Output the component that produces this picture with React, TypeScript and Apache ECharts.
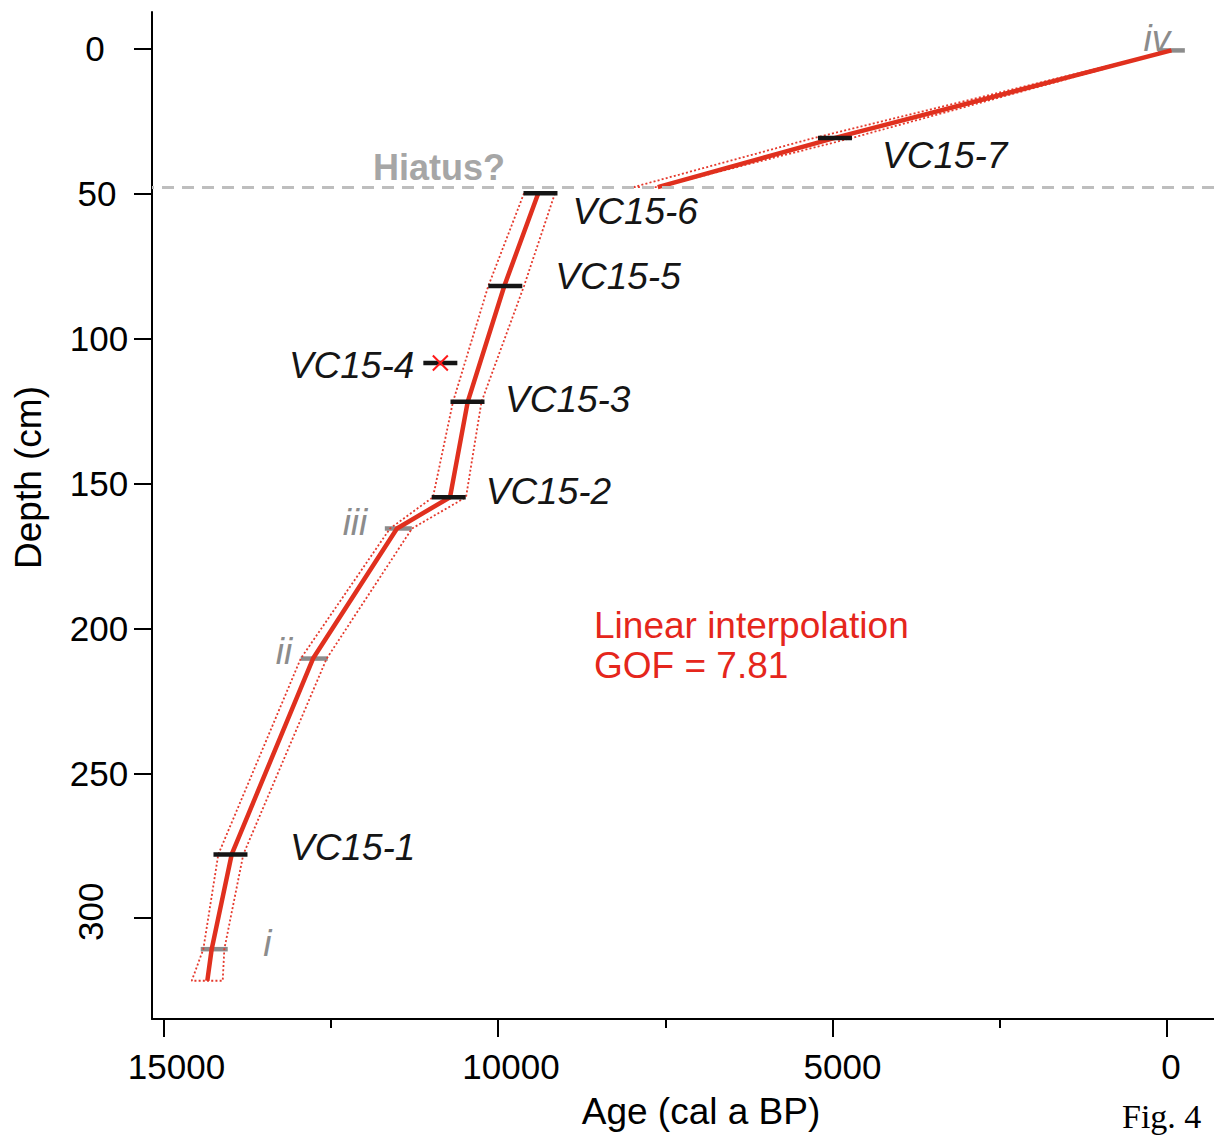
import React, { useEffect, useRef } from "react";
import * as echarts from "echarts";

// ---- data (ages in cal a BP, depths in cm) ----
const lowerLineAge = [9398, 9906, 10453, 10717, 11510, 12765, 13981, 14280, 14345];
const lowerLineDepth = [49.8, 81.8, 121.8, 154.7, 165.5, 210.4, 278.0, 310.7, 321.6];
const lowerOlderAge = [9611, 10145, 10673, 10972, 11614, 12949, 14181, 14405, 14578];
const lowerYoungerAge = [9148, 9611, 10247, 10478, 11285, 12561, 13807, 14091, 14115];
const lowerBoundDepth = [49.8, 81.8, 121.8, 154.7, 165.5, 210.4, 278.0, 310.7, 321.6];

const upperLineAge = [7612, 4963, -65];
const upperLineDepth = [47.7, 30.7, 0.5];
const upperOlderAge = [7978, 5277, -65];
const upperYoungerAge = [7612, 4709, -65];
const upperBoundDepth = [47.7, 30.7, 0.5];

const sampleNames = ["VC15-1", "VC15-2", "VC15-3", "VC15-4", "VC15-5", "VC15-6", "VC15-7"];
const sampleAges = [13999, 10737, 10456, 10862, 9891, 9365, 4963];
const sampleDepths = [278.0, 154.7, 121.8, 108.4, 81.8, 49.8, 30.7];
const rejectedSamples = ["VC15-4"];

const tieNames = ["i", "ii", "iii", "iv"];
const tieAges = [14242, 12747, 11490, -65];
const tieDepths = [310.7, 210.4, 165.5, 0.5];

const hiatusDepth = 47.7;
const depthTicks = [0, 50, 100, 150, 200, 250, 300];
const depthRotatedTicks = [300];
const ageTicks = [0, 5000, 10000, 15000];
const ageMinorTicks = [2500, 7500, 12500];

const modelText = ["Linear interpolation", "GOF = 7.81"];
const modelTextAt = [8565, 205.9];
const hiatusText = "Hiatus?";
const hiatusTextAt = [11868, 41.0];

// ---- layout / style ----
const AGE_MIN = -702.5;
const AGE_MAX = 15172;
const DEPTH_MIN = -12.76;
const DEPTH_MAX = 334.8;
const FONT = "'Liberation Sans', Arial, Helvetica, sans-serif";
const RED = "#e0301e";
const DOT_RED = "#e5392c";
const GRAY = "#8c8c8c";
const BLACK = "#151515";

const labelLayout: Record<string, { dx: number; dy: number; align: string }> = {
  "VC15-1": { dx: 59.5, dy: -7, align: "left" },
  "VC15-2": { dx: 37, dy: -6, align: "left" },
  "VC15-3": { dx: 37.5, dy: -2, align: "left" },
  "VC15-4": { dx: -26, dy: 2, align: "right" },
  "VC15-5": { dx: 50, dy: -9.5, align: "left" },
  "VC15-6": { dx: 32, dy: 18.5, align: "left" },
  "VC15-7": { dx: 47, dy: 18, align: "left" },
  i: { dx: 49, dy: -6, align: "left" },
  ii: { dx: -22, dy: -7, align: "right" },
  iii: { dx: -31, dy: -6, align: "right" },
  iv: { dx: -1, dy: -12, align: "right" },
};

function zip(a: number[], d: number[]) {
  return a.map((v, i) => [v, d[i]]);
}

function envelope(older: number[], younger: number[], depth: number[]) {
  const o = zip(older, depth);
  const y = zip(younger, depth).reverse();
  return [...o, ...y, o[0]];
}

export default function App() {
  const ref = useRef<HTMLDivElement>(null);

  useEffect(() => {
    if (!ref.current) return;
    const chart = echarts.init(ref.current, undefined, { renderer: "svg" });

    const sampleData = sampleNames.map((n, i) => {
      const l = labelLayout[n];
      return {
        name: n,
        value: [sampleAges[i], sampleDepths[i]],
        label: { offset: [l.dx, l.dy], align: l.align },
      };
    });
    const rejectedData = sampleNames
      .map((n, i) => ({ name: n, value: [sampleAges[i], sampleDepths[i]] }))
      .filter((d) => rejectedSamples.includes(d.name));
    const tieData = tieNames.map((n, i) => {
      const l = labelLayout[n];
      return {
        name: n,
        value: [tieAges[i], tieDepths[i]],
        label: { offset: [l.dx, l.dy], align: l.align },
      };
    });

    const xRich = {
      p1: { width: 8 },
      p4: { width: 20 },
      p5: { width: 26 },
      t: { fontSize: 35, fontFamily: FONT, color: "#000" },
    };
    const yRich = {
      p1: { width: 4 },
      p2: { width: 8 },
      p3: { width: 12 },
      t: { fontSize: 35, fontFamily: FONT, color: "#000" },
    };
    const spaced = (v: number) => {
      const s = String(v);
      return `{p${s.length}|\u00a0}{t|${s}}`;
    };

    const option: any = {
      animation: false,
      backgroundColor: "#ffffff",
      grid: { left: 152, right: 0, top: 12, bottom: 115, containLabel: false },
      xAxis: [
        {
          type: "value",
          inverse: true,
          min: AGE_MIN,
          max: AGE_MAX,
          position: "bottom",
          axisLine: { show: true, onZero: false, lineStyle: { color: "#000", width: 2 } },
          axisTick: {
            show: true,
            customValues: ageTicks,
            length: 18,
            lineStyle: { color: "#000", width: 2 },
          },
          axisLabel: {
            show: true,
            customValues: ageTicks,
            margin: 30,
            formatter: spaced,
            rich: xRich,
          },
          splitLine: { show: false },
          name: "Age (cal a BP)",
          nameLocation: "middle",
          nameGap: 74,
          nameTextStyle: {
            fontSize: 37,
            fontFamily: FONT,
            color: "#000",
            padding: [0, 0, 0, 36],
          },
        },
        {
          type: "value",
          inverse: true,
          min: AGE_MIN,
          max: AGE_MAX,
          position: "bottom",
          axisLine: { show: false, onZero: false },
          axisTick: {
            show: true,
            customValues: ageMinorTicks,
            length: 9,
            lineStyle: { color: "#000", width: 2 },
          },
          axisLabel: { show: false },
          splitLine: { show: false },
        },
      ],
      yAxis: [
        {
          type: "value",
          inverse: true,
          min: DEPTH_MIN,
          max: DEPTH_MAX,
          position: "left",
          axisLine: { show: true, onZero: false, lineStyle: { color: "#000", width: 2 } },
          axisTick: {
            show: true,
            customValues: depthTicks,
            length: 18,
            lineStyle: { color: "#000", width: 2 },
          },
          axisLabel: {
            show: true,
            customValues: depthTicks.filter((d) => !depthRotatedTicks.includes(d)),
            align: "center",
            margin: 59,
            formatter: spaced,
            rich: yRich,
          },
          splitLine: { show: false },
          name: "Depth (cm)",
          nameLocation: "middle",
          nameGap: 105,
          nameTextStyle: {
            fontSize: 37,
            fontFamily: FONT,
            color: "#000",
            padding: [0, 0, 0, 76],
          },
        },
        {
          type: "value",
          inverse: true,
          min: DEPTH_MIN,
          max: DEPTH_MAX,
          position: "left",
          axisLine: { show: false, onZero: false },
          axisTick: { show: false },
          axisLabel: {
            show: true,
            customValues: depthRotatedTicks,
            rotate: 90,
            margin: 44,
            fontSize: 35,
            fontFamily: FONT,
            color: "#000",
            padding: [0, 0, 0, 13],
          },
          splitLine: { show: false },
        },
      ],
      series: [
        {
          name: "tie points",
          type: "scatter",
          z: 1,
          symbol: "rect",
          symbolSize: [27, 4.5],
          itemStyle: { color: GRAY, opacity: 1 },
          emphasis: { disabled: true },
          data: tieData,
          label: {
            show: true,
            position: "inside",
            verticalAlign: "middle",
            formatter: "{b}",
            fontSize: 37,
            fontStyle: "italic",
            fontFamily: FONT,
            color: GRAY,
            opacity: 1,
          },
        },
        {
          name: "lower envelope",
          type: "line",
          z: 2,
          symbol: "none",
          data: envelope(lowerOlderAge, lowerYoungerAge, lowerBoundDepth),
          lineStyle: { color: DOT_RED, width: 1.8, type: [2, 2.2], opacity: 1 },
        },
        {
          name: "upper envelope",
          type: "line",
          z: 2,
          symbol: "none",
          data: envelope(upperOlderAge, upperYoungerAge, upperBoundDepth),
          lineStyle: { color: DOT_RED, width: 1.8, type: [2, 2.2], opacity: 1 },
        },
        {
          name: "hiatus",
          type: "line",
          z: 2,
          symbol: "none",
          data: [],
          markLine: {
            silent: true,
            symbol: ["none", "none"],
            label: { show: false },
            lineStyle: { color: "#bebebe", width: 3, type: [12, 8], opacity: 1 },
            data: [{ yAxis: hiatusDepth }],
          },
        },
        {
          name: "model lower",
          type: "line",
          z: 3,
          symbol: "none",
          data: zip(lowerLineAge, lowerLineDepth),
          lineStyle: { color: RED, width: 4.5, cap: "butt", opacity: 1 },
        },
        {
          name: "model upper",
          type: "line",
          z: 3,
          symbol: "none",
          data: zip(upperLineAge, upperLineDepth),
          lineStyle: { color: RED, width: 4.5, cap: "butt", opacity: 1 },
        },
        {
          name: "dated samples",
          type: "scatter",
          z: 4,
          symbol: "rect",
          symbolSize: [34, 4.5],
          itemStyle: { color: BLACK, opacity: 1 },
          emphasis: { disabled: true },
          data: sampleData,
          label: {
            show: true,
            position: "inside",
            verticalAlign: "middle",
            formatter: "{b}",
            fontSize: 37,
            fontStyle: "italic",
            fontFamily: FONT,
            color: BLACK,
            opacity: 1,
          },
        },
        {
          name: "rejected",
          type: "scatter",
          z: 5,
          symbol: "path://M0,0L10,10M10,0L0,10",
          symbolSize: 15,
          itemStyle: { color: "transparent", borderColor: "#ff1a1a", borderWidth: 2, opacity: 1 },
          emphasis: { disabled: true },
          data: rejectedData,
        },
        {
          name: "annotations",
          type: "scatter",
          z: 6,
          symbol: "circle",
          symbolSize: 1,
          itemStyle: { color: "transparent", opacity: 1 },
          emphasis: { disabled: true },
          data: [
            {
              name: hiatusText,
              value: hiatusTextAt,
              label: {
                show: true,
                position: "inside",
                align: "left",
                verticalAlign: "middle",
                formatter: hiatusText,
                fontSize: 36,
                fontWeight: "bold",
                fontFamily: FONT,
                color: "#a6a6a6",
                opacity: 1,
              },
            },
            {
              name: "model",
              value: modelTextAt,
              label: {
                show: true,
                position: "inside",
                align: "left",
                verticalAlign: "middle",
                formatter: modelText.join("\n"),
                fontSize: 37,
                lineHeight: 40,
                fontFamily: FONT,
                color: "#e5261c",
                opacity: 1,
              },
            },
          ],
        },
      ],
      graphic: [
        {
          type: "text",
          left: 1122,
          top: 1099,
          style: {
            text: "Fig. 4",
            font: "34px 'Liberation Serif', 'Times New Roman', serif",
            fill: "#000",
          },
        },
      ],
    };

    chart.setOption(option);
    return () => chart.dispose();
  }, []);

  return (
    <div
      ref={ref}
      style={{ position: "absolute", left: 0, top: 0, width: 1214, height: 1135, background: "#fff" }}
    />
  );
}
